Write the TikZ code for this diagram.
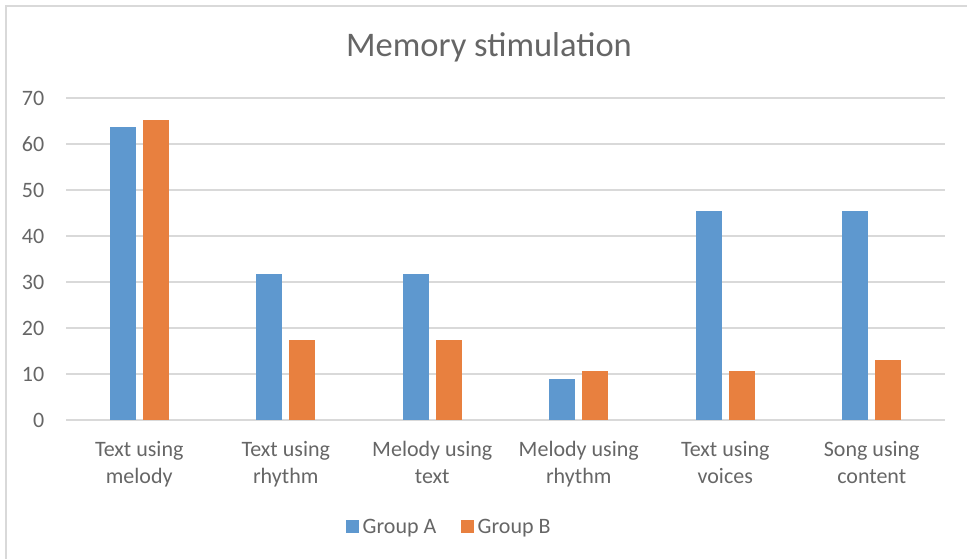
\documentclass[tikz,border=0pt]{standalone}
\usepackage{fontspec}
\setmainfont{Carlito}
\definecolor{barA}{HTML}{5E98CF}
\definecolor{barB}{HTML}{E8803F}
\definecolor{gridc}{HTML}{D9D9D9}
\definecolor{txt}{HTML}{666666}
\begin{document}
\begin{tikzpicture}[x=1pt,y=-1pt,
  gridline/.style={gridc,line width=1.5pt},
  frame/.style={gridc,line width=1.5pt},
  lbl/.style={txt,inner sep=0pt,font=\fontsize{22}{26}\selectfont},
  ttl/.style={txt,inner sep=0pt,font=\fontsize{34.5}{40}\selectfont},
  swatch/.style={minimum size=13pt,inner sep=0pt,draw=none}]
\useasboundingbox (0,0) rectangle (967,559);
\clip (0,0) rectangle (967,559);
% chart frame
\draw[frame] (6,575) -- (6,6) -- (980,6);
% title
\node[ttl,anchor=base] (title) at (489,56.7) {Memory stimulation};
% value axis: gridlines and tick labels
\foreach \v in {0,...,7}{
  \pgfmathsetmacro{\gy}{420-46*\v}
  \draw[gridline] (66,\gy) -- (945,\gy);
  \pgfmathtruncatemacro{\lab}{10*\v}
  \node[lbl,anchor=east] (ylab\v) at (44.5,\gy) {\lab};
}
% bars and category labels
\foreach \i/\la/\lb/\va/\vb in {
  1/Text using/melody/63.7/65.2,
  2/Text using/rhythm/31.8/17.4,
  3/Melody using/text/31.8/17.4,
  4/Melody using/rhythm/9.0/10.7,
  5/Text using/voices/45.5/10.7,
  6/Song using/content/45.5/13.0}{
  \pgfmathsetmacro{\c}{66+146.5*(\i-0.5)}
  \fill[barA] ({\c-29.5},420) rectangle ({\c-3.5},{420-4.6*\va});
  \fill[barB] ({\c+3.5},420) rectangle ({\c+29.5},{420-4.6*\vb});
  \node[lbl,anchor=base] (cat\i a) at (\c,456.7) {\la};
  \node[lbl,anchor=base] (cat\i b) at (\c,483.2) {\lb};
}
% legend
\node[swatch,fill=barA,anchor=north west] (keyA) at (346,520) {};
\node[lbl,anchor=base west] (keyAtxt) at (362.5,533) {Group A};
\node[swatch,fill=barB,anchor=north west] (keyB) at (461,520) {};
\node[lbl,anchor=base west] (keyBtxt) at (477.5,533) {Group B};
\end{tikzpicture}
\end{document}
